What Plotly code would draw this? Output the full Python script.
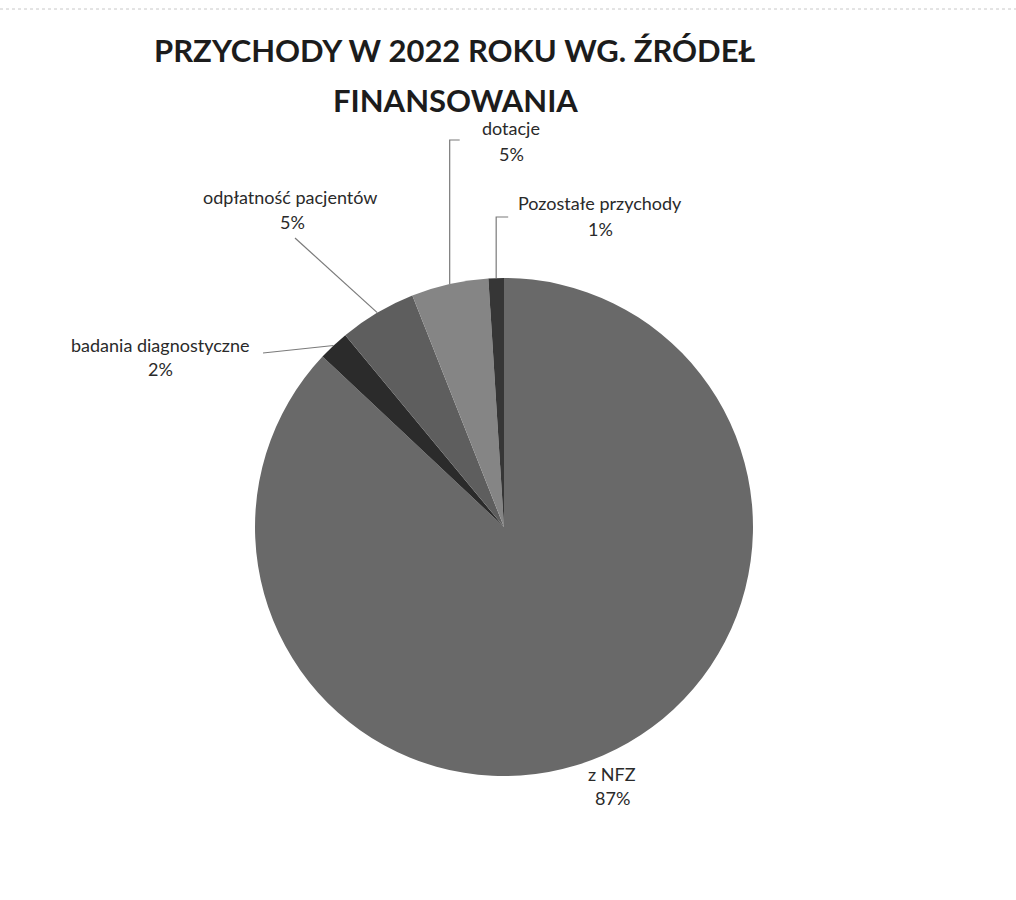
import math
import plotly.graph_objects as go

# ---- data ----
labels = ["z NFZ", "badania diagnostyczne", "odpłatność pacjentów", "dotacje", "Pozostałe przychody"]
values = [87, 2, 5, 5, 1]
title_lines = ["PRZYCHODY W 2022 ROKU WG. ŹRÓDEŁ", "FINANSOWANIA"]

# ---- style ----
colors = ["#696969", "#2b2b2b", "#5e5e5e", "#858585", "#363636"]
W, H = 1016, 900
CX, CY, R = 504, 527, 249  # pie centre / radius in pixels

# label placement (pixel style positions): name centre, pct centre, leader end, kind
label_style = {
    "z NFZ": dict(name=(612, 774), pct=(612, 798), leader=None),
    "badania diagnostyczne": dict(name=(160, 345), pct=(160, 369), leader=("straight", (263, 353))),
    "odpłatność pacjentów": dict(name=(290, 197), pct=(292, 222), leader=("straight", (295, 238))),
    "dotacje": dict(name=(511, 128), pct=(511, 154), leader=("elbow", (140, 10))),
    "Pozostałe przychody": dict(name=(600, 203), pct=(600, 229), leader=("elbow", (217, 12))),
}

def px(x):
    return x / W

def py(y):
    return 1 - y / H

total = sum(values)
fig = go.Figure(go.Pie(
    labels=labels, values=values, sort=False, direction="clockwise", rotation=0,
    marker=dict(colors=colors, line=dict(width=0)),
    textinfo="none", hoverinfo="label+percent", showlegend=False,
    domain=dict(x=[px(CX - R), px(CX + R)], y=[py(CY + R), py(CY - R)]),
))

annotations = []
shapes = []
label_font = dict(family="Lato, 'Open Sans', sans-serif", size=18, color="#2a2a2a")
cum = 0
for lab, v in zip(labels, values):
    mid = (cum + v / 2) / total
    cum += v
    ang = 2 * math.pi * mid
    ex, ey = CX + R * math.sin(ang), CY - R * math.cos(ang)
    st = label_style[lab]
    pct = f"{round(v / total * 100)}%"
    for txt, (x, y) in ((lab, st["name"]), (pct, st["pct"])):
        annotations.append(dict(text=txt, x=px(x), y=py(y), xref="paper", yref="paper",
                                xanchor="center", yanchor="middle", showarrow=False, font=label_font))
    if st["leader"]:
        kind, p = st["leader"]
        if kind == "straight":
            path = f"M {px(ex)},{py(ey)} L {px(p[0])},{py(p[1])}"
        else:
            ytop, tick = p
            path = (f"M {px(ex)},{py(ey)} L {px(ex)},{py(ytop)} "
                    f"L {px(ex + tick)},{py(ytop)}")
        shapes.append(dict(type="path", path=path, xref="paper", yref="paper",
                           line=dict(color="#7a7a7a", width=1.2)))

title_font = dict(family="Lato, 'Open Sans', sans-serif", size=31, color="#1c1c1c")
for txt, y in zip(title_lines, (50, 100)):
    annotations.append(dict(text=f"<b>{txt}</b>", x=px(455), y=py(y), xref="paper", yref="paper",
                            xanchor="center", yanchor="middle", showarrow=False, font=title_font))

# faint scan border at top
shapes.append(dict(type="line", x0=0, x1=1, y0=py(9), y1=py(9), xref="paper", yref="paper",
                   line=dict(color="#c8c8c8", width=1, dash="dot")))

fig.update_layout(
    width=W, height=H, margin=dict(l=0, r=0, t=0, b=0),
    paper_bgcolor="white", plot_bgcolor="white",
    annotations=annotations, shapes=shapes,
)
fig.write_html("out.html")
